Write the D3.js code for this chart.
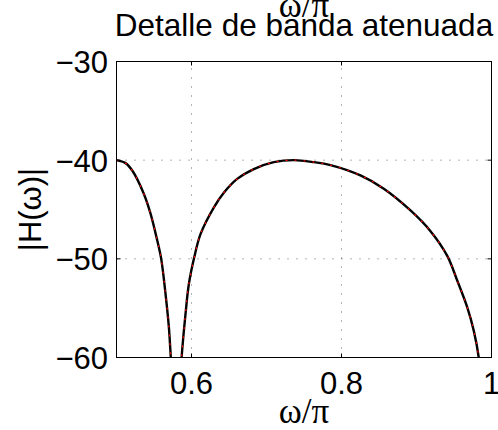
<!DOCTYPE html>
<html>
<head>
<meta charset="utf-8">
<script src="https://cdn.jsdelivr.net/npm/d3@7"></script>
<style>
  html, body { margin: 0; padding: 0; background: #fff; }
  svg { display: block; }
  text { font-family: "Liberation Sans", Arial, Helvetica, sans-serif; fill: #000; }
</style>
</head>
<body>
<svg id="chart" width="498" height="430"></svg>
<script>
// ---- data ----
const omega = [
  0.500, 0.512, 0.521, 0.5364, 0.5453, 0.5542, 0.5596, 0.5653, 0.5698, 0.5724, 0.5750,
  0.5840, 0.5868, 0.5920, 0.5964, 0.6035, 0.6120, 0.6297, 0.6431, 0.6609, 0.6831,
  0.7097, 0.7364, 0.7630, 0.7853, 0.8253, 0.8564, 0.8920, 0.9187, 0.9410, 0.9543,
  0.9676, 0.9764, 0.9830, 0.9870
];
const magnitude = [
  -40.0, -40.3, -41.05, -43.4, -45.4, -48.1, -50.0, -53.5, -56.9, -60.0, -63.5,
  -63.5, -60.0, -55.6, -52.6, -49.9, -47.5, -44.8, -43.3, -41.9, -40.9,
  -40.2, -40.0, -40.2, -40.5, -41.55, -42.9, -45.1, -47.2, -49.7, -52.2,
  -54.9, -57.3, -60.0, -63.5
];
// the plot has two branches separated by the null near 0.58
const branchBreak = 11;
const xTicks = [0.6, 0.8, 1];
const xTickLabels = ["0.6", "0.8", "1"];
const yTicks = [-30, -40, -50, -60];
const yTickLabels = ["\u221230", "\u221240", "\u221250", "\u221260"];
const titleText = "Detalle de banda atenuada";
const xLabelText = "\u03c9/\u03c0";
const yLabelText = "|H(\u03c9)|";

// ---- layout ----
const svg = d3.select("#chart");
const L = 116.5, R = 491.5, T = 61.5, B = 357.5;
const x = d3.scaleLinear().domain([0.5, 1]).range([L, R]);
const y = d3.scaleLinear().domain([-60, -30]).range([B, T]);

svg.append("rect").attr("x", 0).attr("y", 0).attr("width", 498).attr("height", 430).attr("fill", "#fff");

svg.append("defs").append("clipPath").attr("id", "clip")
  .append("rect").attr("x", L).attr("y", T).attr("width", R - L).attr("height", B - T);

// grid
const grid = svg.append("g");
grid.selectAll("line.gx").data(xTicks.filter(v => v < 1)).enter().append("line")
  .attr("x1", d => x(d)).attr("x2", d => x(d)).attr("y1", B).attr("y2", T)
  .attr("stroke", "#000").attr("stroke-opacity", 0.6).attr("stroke-width", 1)
  .attr("stroke-dasharray", "1,8");
grid.selectAll("line.gy").data(yTicks.filter(v => v > -60 && v < -30)).enter().append("line")
  .attr("x1", L).attr("x2", R).attr("y1", d => y(d)).attr("y2", d => y(d))
  .attr("stroke", "#000").attr("stroke-opacity", 0.6).attr("stroke-width", 1)
  .attr("stroke-dasharray", "1,8");

// curves
const pts = omega.map((w, i) => ({ w, m: magnitude[i] }));
const branches = [pts.slice(0, branchBreak), pts.slice(branchBreak)];
const line = d3.line().x(d => x(d.w)).y(d => y(d.m)).curve(d3.curveCatmullRom.alpha(0.5));
const plot = svg.append("g").attr("clip-path", "url(#clip)");
branches.forEach(b => {
  plot.append("path").attr("d", line(b)).attr("fill", "none")
    .attr("stroke", "#000").attr("stroke-width", 2.4).attr("stroke-linejoin", "round");
});
branches.forEach(b => {
  plot.append("path").attr("d", line(b)).attr("fill", "none")
    .attr("stroke", "#ff0000").attr("stroke-width", 1.2)
    .attr("stroke-dasharray", "2,7");
});

// axes box with inward ticks
const axisG = svg.append("g");
const tl = 4;
xTicks.forEach(v => {
  axisG.append("line").attr("x1", x(v)).attr("x2", x(v)).attr("y1", B).attr("y2", B - tl).attr("stroke", "#000");
  axisG.append("line").attr("x1", x(v)).attr("x2", x(v)).attr("y1", T).attr("y2", T + tl).attr("stroke", "#000");
});
yTicks.forEach(v => {
  axisG.append("line").attr("x1", L).attr("x2", L + tl).attr("y1", y(v)).attr("y2", y(v)).attr("stroke", "#000");
  axisG.append("line").attr("x1", R).attr("x2", R - tl).attr("y1", y(v)).attr("y2", y(v)).attr("stroke", "#000");
});
axisG.append("rect").attr("x", L).attr("y", T).attr("width", R - L).attr("height", B - T)
  .attr("fill", "none").attr("stroke", "#000").attr("stroke-width", 1);

// tick labels
svg.append("g").selectAll("text").data(xTicks).enter().append("text")
  .attr("x", d => x(d)).attr("y", 394).attr("text-anchor", "middle")
  .attr("font-size", 31).text((d, i) => xTickLabels[i]);
svg.append("g").selectAll("text").data(yTicks).enter().append("text")
  .attr("x", 108).attr("y", d => y(d) + 11.5).attr("text-anchor", "end")
  .attr("font-size", 31).text((d, i) => yTickLabels[i]);

// labels
svg.append("text").attr("x", (L + R) / 2).attr("y", 36).attr("text-anchor", "middle")
  .attr("font-size", 31.5).text(titleText);
svg.append("text").attr("x", (L + R) / 2).attr("y", 17).attr("text-anchor", "middle")
  .attr("font-size", 35).style("font-family", "'Liberation Serif', 'Times New Roman', serif").text(xLabelText);
svg.append("text").attr("x", (L + R) / 2).attr("y", 423).attr("text-anchor", "middle")
  .attr("font-size", 35).style("font-family", "'Liberation Serif', 'Times New Roman', serif").text(xLabelText);
svg.append("text").attr("transform", "translate(41," + ((T + B) / 2) + ") rotate(-90)")
  .attr("text-anchor", "middle").attr("font-size", 31).text(yLabelText);
</script>
</body>
</html>
